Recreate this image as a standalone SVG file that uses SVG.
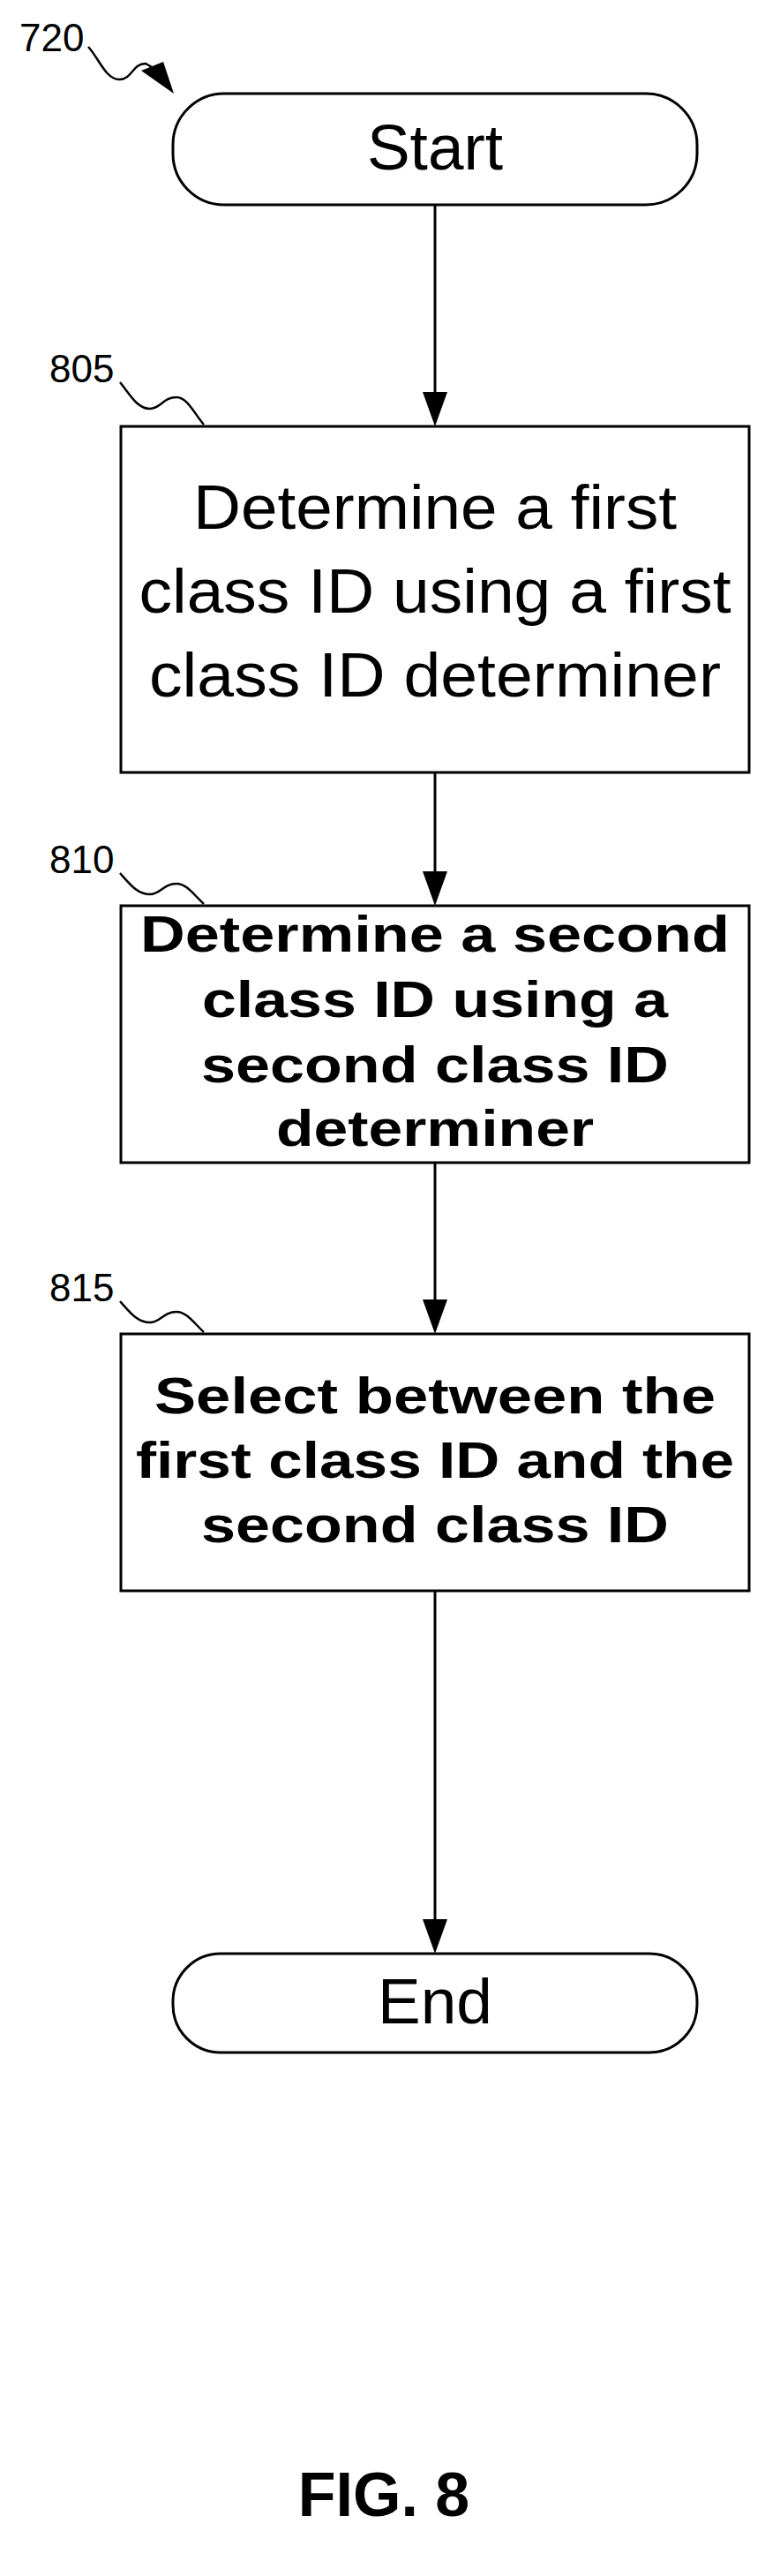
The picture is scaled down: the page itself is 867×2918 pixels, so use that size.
<svg xmlns="http://www.w3.org/2000/svg" width="867" height="2918" viewBox="0 0 867 2918">
<style>
.s{fill:#fff;stroke:#000;stroke-width:3}
.c{fill:none;stroke:#000;stroke-width:3}
.t{font-family:"Liberation Sans",Arial,sans-serif;text-anchor:middle;fill:#000}
.r{font-family:"Liberation Sans",Arial,sans-serif;font-size:44px;fill:#000}
.sq{fill:none;stroke:#000;stroke-width:2.5}
</style>
<rect width="867" height="2918" fill="#fff"/>
<g id="connectors">
<path class="c" d="M493,232 V444"/><path d="M479,444 L507,444 L493,483 Z"/>
<path class="c" d="M493,875 V987"/><path d="M479,987 L507,987 L493,1026 Z"/>
<path class="c" d="M493,1317 V1472"/><path d="M479,1472 L507,1472 L493,1511 Z"/>
<path class="c" d="M493,1802 V2174"/><path d="M479,2174 L507,2174 L493,2213 Z"/>
</g>
<g id="ref720">
<text class="r" x="22" y="58">720</text>
<path class="sq" d="M100,53 C112,66 120,90 135,90 C150,90 150,72 165,72 L172,76"/>
<path d="M160,80 L185,70 L197,106 Z"/>
</g>
<g id="start">
<rect class="s" x="196" y="106" width="594" height="126" rx="58"/>
<text class="t" x="493" y="192" font-size="73">Start</text>
</g>
<g id="n805">
<text class="r" x="56" y="433">805</text>
<path class="sq" d="M136,433 C146,445 155,463 170,463 C182,463 185,450 200,450 C212,450 220,468 231,481"/>
<rect class="s" x="137" y="483" width="712" height="392"/>
<text class="t" font-size="70"><tspan x="493" y="599" textLength="548" lengthAdjust="spacingAndGlyphs">Determine a first</tspan><tspan x="493" y="694" textLength="671" lengthAdjust="spacingAndGlyphs">class ID using a first</tspan><tspan x="493" y="789" textLength="648" lengthAdjust="spacingAndGlyphs">class ID determiner</tspan></text>
</g>
<g id="n810">
<text class="r" x="56" y="989">810</text>
<path class="sq" d="M136,989 C146,1000 155,1013 170,1013 C182,1013 185,1001 200,1001 C212,1001 220,1014 231,1024"/>
<rect class="s" x="137" y="1026" width="712" height="291"/>
<text class="t" font-size="58" font-weight="bold"><tspan x="493" y="1078" textLength="668" lengthAdjust="spacingAndGlyphs">Determine a second</tspan><tspan x="493" y="1152" textLength="528" lengthAdjust="spacingAndGlyphs">class ID using a</tspan><tspan x="493" y="1226" textLength="530" lengthAdjust="spacingAndGlyphs">second class ID</tspan><tspan x="493" y="1298" textLength="360" lengthAdjust="spacingAndGlyphs">determiner</tspan></text>
</g>
<g id="n815">
<text class="r" x="56" y="1474">815</text>
<path class="sq" d="M136,1474 C146,1485 155,1498 170,1498 C182,1498 185,1486 200,1486 C212,1486 220,1499 231,1509"/>
<rect class="s" x="137" y="1511" width="712" height="291"/>
<text class="t" font-size="58" font-weight="bold"><tspan x="493" y="1601" textLength="636" lengthAdjust="spacingAndGlyphs">Select between the</tspan><tspan x="493" y="1674" textLength="678" lengthAdjust="spacingAndGlyphs">first class ID and the</tspan><tspan x="493" y="1747" textLength="530" lengthAdjust="spacingAndGlyphs">second class ID</tspan></text>
</g>
<g id="end">
<rect class="s" x="196" y="2213" width="594" height="112" rx="54"/>
<text class="t" x="493" y="2292" font-size="73">End</text>
</g>
<g id="caption">
<text class="t" x="435" y="2850" font-size="70" font-weight="bold">FIG. 8</text>
</g>
</svg>
